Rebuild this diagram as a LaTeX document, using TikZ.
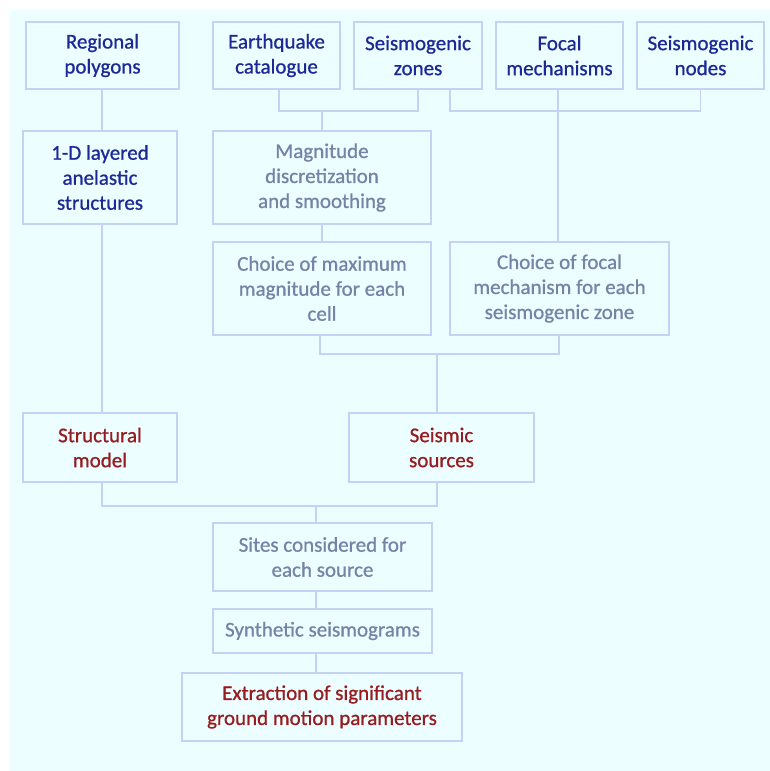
\documentclass[tikz,border=0pt]{standalone}
\usepackage{fontspec}
\setmainfont{Carlito}[UprightFeatures={FakeBold=0.8}]
\definecolor{bgc}{RGB}{236,254,255}
\definecolor{linec}{RGB}{196,210,245}
\definecolor{bluet}{RGB}{28,40,150}
\definecolor{grayt}{RGB}{118,130,166}
\definecolor{redt}{RGB}{150,28,32}
\begin{document}
\begin{tikzpicture}[x=1pt,y=-1pt,
  box/.style={draw=linec,line width=1.2pt,fill=bgc,align=center,inner sep=0pt,
    font=\fontsize{21}{25}\selectfont},
  b/.style={box,text=bluet},
  g/.style={box,text=grayt},
  r/.style={box,text=redt},
  conn/.style={draw=linec,line width=1.2pt}]
\useasboundingbox (0,0) rectangle (770,771);
\fill[white] (0,0) rectangle (770,771);
\fill[bgc] (10,10) rectangle (770,771);
% top row
\node[b,minimum width=153pt,minimum height=67pt] (reg) at (102.5,55.5) {Regional\\polygons};
\node[b,minimum width=127pt,minimum height=67pt] (eq) at (276.5,55.5) {Earthquake\\catalogue};
\node[b,minimum width=128pt,minimum height=67pt] (sz) at (418,55.5) {Seismogenic\\zones};
\node[b,minimum width=127pt,minimum height=67pt] (fm) at (559.5,55.5) {Focal\\mechanisms};
\node[b,minimum width=127pt,minimum height=67pt] (sn) at (700.5,55.5) {Seismogenic\\nodes};
% second row
\node[b,minimum width=154pt,minimum height=93pt] (od) at (100,177.5) {1-D layered\\anelastic\\structures};
\node[g,minimum width=218pt,minimum height=93pt] (mag) at (322,177.5) {Magnitude\\discretization\\and smoothing};
% third row
\node[g,minimum width=218pt,minimum height=93pt] (cmax) at (322,288.5) {Choice of maximum\\magnitude for each\\cell};
\node[g,minimum width=219pt,minimum height=93pt] (cfoc) at (559.5,288.5) {Choice of focal\\mechanism for each\\seismogenic zone};
% fourth row
\node[r,minimum width=154pt,minimum height=69pt] (st) at (100,447.5) {Structural\\model};
\node[r,minimum width=185pt,minimum height=69pt] (ss) at (441.5,447.5) {Seismic\\sources};
% bottom
\node[g,minimum width=219pt,minimum height=68pt] (sites) at (322.5,557) {Sites considered for\\each source};
\node[g,minimum width=219pt,minimum height=44pt] (syn) at (322.5,631) {Synthetic seismograms};
\node[r,minimum width=280pt,minimum height=68pt] (ex) at (322,707) {Extraction of significant\\ground motion parameters};
% junctions
\coordinate (j1) at (322,111);
\coordinate (j2) at (558,111);
\coordinate (j3) at (437,354);
\coordinate (j4) at (316,506);
% connectors
\draw[conn] (reg.south -| 102,0) -- (od.north -| 102,0);
\draw[conn] (eq.south -| 279,0) |- (j1) -| (sz.south);
\draw[conn] (j1) -- (mag.north -| j1);
\draw[conn] (sz.south -| 450,0) |- (j2) -| (sn.south);
\draw[conn] (fm.south -| j2) -- (cfoc.north -| j2);
\draw[conn] (mag.south -| j1) -- (cmax.north -| j1);
\draw[conn] (cmax.south -| 320,0) |- (j3) -| (cfoc.south -| 559,0);
\draw[conn] (j3) -- (ss.north -| j3);
\draw[conn] (od.south -| 102,0) -- (st.north -| 102,0);
\draw[conn] (st.south -| 102,0) |- (j4) -| (ss.south -| j3);
\draw[conn] (j4) -- (sites.north -| j4);
\draw[conn] (sites.south -| j4) -- (syn.north -| j4);
\draw[conn] (syn.south -| j4) -- (ex.north -| j4);
\end{tikzpicture}
\end{document}
